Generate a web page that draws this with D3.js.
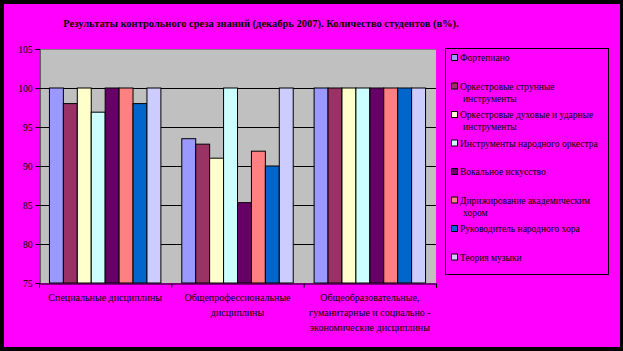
<html>
  <head>
    <meta charset="utf-8" />
    <script src="https://cdnjs.cloudflare.com/ajax/libs/d3/7.6.1/d3.min.js"></script>
    <style>
      body { margin: 0; background: #000; }
      svg { display: block; }
      text { font-family: "Liberation Serif", "DejaVu Serif", serif; }
    </style>
  </head>
  <body>
    <svg width="623" height="351"></svg>
  </body>
  <script>
    const categories = [
      ["Специальные дисциплины"],
      ["Общепрофессиональные", "дисциплины"],
      ["Общеобразовательные,", "гуманитарные и социально -", "экономические дисциплины"],
    ];
    const seriesNames = [
      ["Фортепиано"],
      ["Оркестровые струнные", "инструменты"],
      ["Оркестровые духовые и ударные", "инструменты"],
      ["Инструменты народного оркестра"],
      ["Вокальное искусство"],
      ["Дирижирование академическим", "хором"],
      ["Руководитель народного хора"],
      ["Теория музыки"],
    ];
    const colors = ["#9999ff", "#993366", "#ffffcc", "#ccffff", "#660066", "#ff8080", "#0066cc", "#ccccff"];
    // values per category, one per series
    const values = [
      [100, 98, 100, 96.9, 100, 100, 98, 100],
      [93.5, 92.8, 91, 100, 85.3, 91.9, 90, 100],
      [100, 100, 100, 100, 100, 100, 100, 100],
    ];
    const yTicks = [75, 80, 85, 90, 95, 100, 105];
    const title = "Результаты контрольного среза знаний (декабрь 2007). Количество студентов (в%).";

    const svg = d3.select("svg");
    svg.append("rect").attr("x", 4).attr("y", 4).attr("width", 616).attr("height", 343).attr("fill", "#ff00ff");

    const pl = 39, pr = 436, pt = 49, pb = 283;
    const x0 = d3.scaleBand().domain(d3.range(categories.length)).range([pl, pr]);
    const x1 = d3.scaleBand().domain(d3.range(seriesNames.length)).range([0, x0.bandwidth()]).paddingOuter(0.75);
    const y = d3.scaleLinear().domain([75, 105]).range([pb, pt]);

    svg.append("rect").attr("x", pl).attr("y", pt).attr("width", pr - pl).attr("height", pb - pt).attr("fill", "#c0c0c0");
    svg.append("line").attr("x1", pl).attr("x2", pr).attr("y1", pt + 0.5).attr("y2", pt + 0.5).attr("stroke", "#808080");

    // gridlines
    svg.selectAll("line.grid").data(yTicks.filter((d) => d > 75 && d < 105)).enter().append("line")
      .attr("x1", pl).attr("x2", pr)
      .attr("y1", (d) => Math.round(y(d)) + 0.5).attr("y2", (d) => Math.round(y(d)) + 0.5)
      .attr("stroke", "#000");

    // bars
    const g = svg.selectAll("g.cat").data(values).enter().append("g")
      .attr("transform", (d, i) => `translate(${x0(i)},0)`);
    g.selectAll("rect").data((d) => d).enter().append("rect")
      .attr("x", (d, j) => x1(j))
      .attr("y", (d) => y(d))
      .attr("width", x1.bandwidth())
      .attr("height", (d) => pb - y(d))
      .attr("fill", (d, j) => colors[j])
      .attr("stroke", "#000").attr("stroke-width", 1);

    // axes
    const yAxis = d3.axisLeft(y).tickValues(yTicks).tickSize(4).tickPadding(3);
    const ya = svg.append("g").attr("transform", `translate(${pl + 0.5},0)`).call(yAxis);
    ya.select(".domain").attr("stroke", "#000");
    ya.selectAll("text").attr("font-family", "Liberation Serif").attr("font-size", 9.5).attr("fill", "#000");

    const xBound = d3.scaleLinear().domain([0, 3]).range([pl, pr]);
    const xa = svg.append("g").attr("transform", `translate(0,${pb + 0.5})`)
      .call(d3.axisBottom(xBound).tickValues([0, 1, 2, 3]).tickSize(4).tickFormat(""));
    xa.select(".domain").attr("stroke", "#000");

    // category labels
    svg.selectAll("text.cat").data(categories).enter().append("text")
      .attr("class", "cat")
      .attr("x", (d, i) => x0(i) + x0.bandwidth() / 2)
      .attr("y", 301)
      .attr("text-anchor", "middle").attr("font-size", 10).attr("fill", "#000")
      .selectAll("tspan").data((d) => d).enter().append("tspan")
      .attr("x", function () { return this.parentNode.getAttribute("x"); })
      .attr("dy", (d, k) => (k === 0 ? 0 : 15))
      .text((d) => d);

    // title
    svg.append("text").attr("x", 261).attr("y", 27).attr("text-anchor", "middle")
      .attr("font-size", 10.5).attr("font-weight", "bold").text(title);

    // legend
    svg.append("rect").attr("x", 445.5).attr("y", 48.5).attr("width", 163).attr("height", 226)
      .attr("fill", "none").attr("stroke", "#000");
    const ly = d3.scaleBand().domain(d3.range(seriesNames.length)).range([47, 275]);
    const lg = svg.selectAll("g.leg").data(seriesNames).enter().append("g")
      .attr("transform", (d, i) => `translate(451,${ly(i) + 8})`);
    lg.append("rect").attr("x", 0.5).attr("y", -0.5).attr("width", 6).attr("height", 6)
      .attr("fill", (d, i) => colors[i]).attr("stroke", "#000");
    lg.append("text").attr("x", 9).attr("y", 6).attr("font-size", 9.5).attr("fill", "#000")
      .selectAll("tspan").data((d) => d).enter().append("tspan")
      .attr("x", (d, k) => (k === 0 ? 9 : 12))
      .attr("dy", (d, k) => (k === 0 ? 0 : 12))
      .text((d) => d);
  </script>
</html>
